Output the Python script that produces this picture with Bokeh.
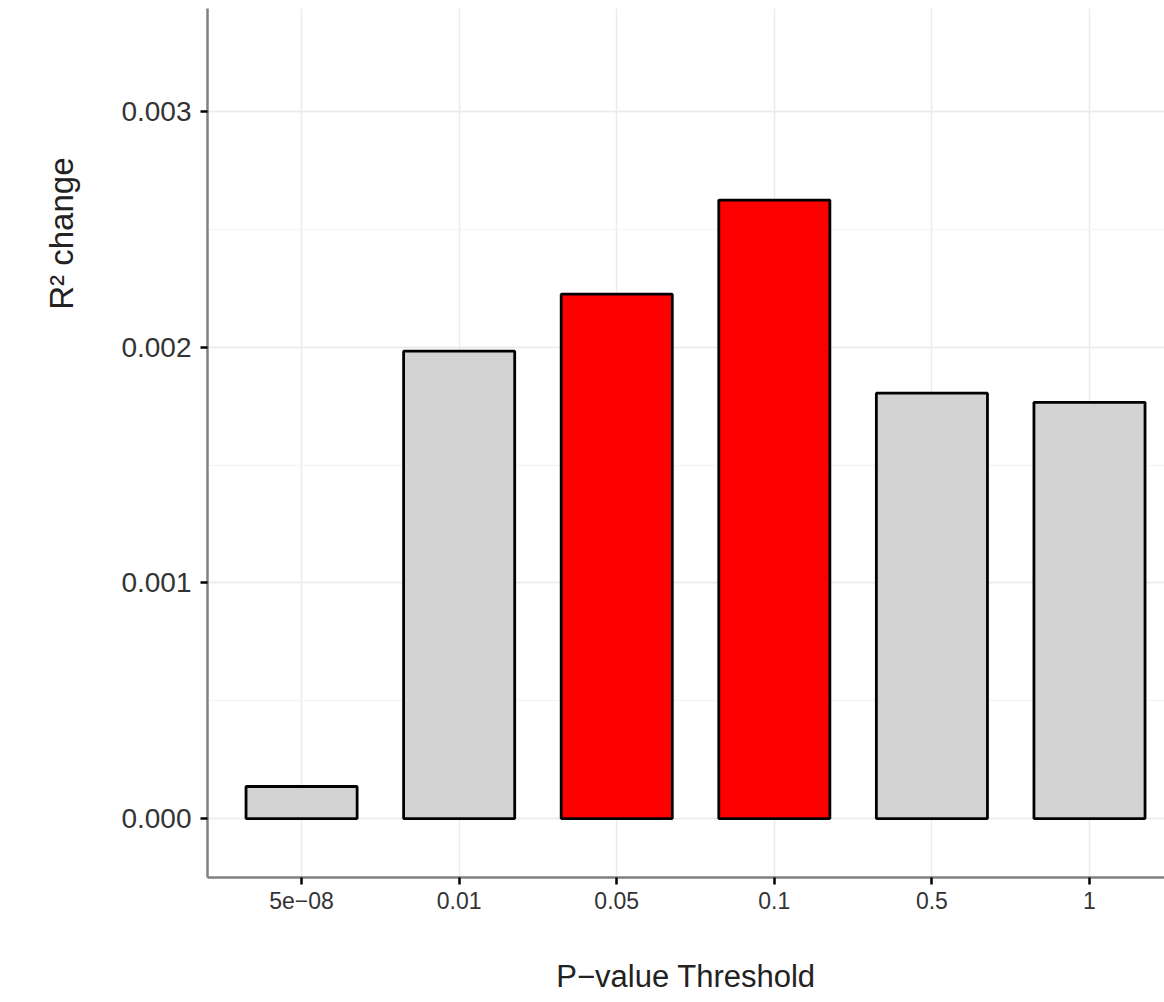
from bokeh.plotting import figure
from bokeh.models import (Range1d, FixedTicker, SingleIntervalTicker, ColumnDataSource,
                          PrintfTickFormatter, Title)
from bokeh.embed import file_html
from bokeh.resources import INLINE

categories = ["5e\u221208", "0.01", "0.05", "0.1", "0.5", "1"]
r2_change = [0.000136, 0.001983, 0.002225, 0.002624, 0.001805, 0.001766]
bar_colors = ["#D3D3D3", "#D3D3D3", "#FF0000", "#FF0000", "#D3D3D3", "#D3D3D3"]

xpos = list(range(1, len(categories) + 1))
src = ColumnDataSource(dict(x=xpos, top=r2_change, color=bar_colors))

x0, x1 = 0.403, 6.476
y0, y1 = -0.00025, 0.003437
p = figure(width=1164, height=1002, output_backend="svg", toolbar_location=None,
           x_range=Range1d(x0, x1), y_range=Range1d(y0, y1),
           min_border_left=207, min_border_right=0, min_border_top=8, min_border_bottom=125)
p.outline_line_color = None
p.background_fill_color = "white"
p.border_fill_color = "white"

p.vbar(x="x", top="top", bottom=0, width=0.705, fill_color="color",
       line_color="black", line_width=2.8, source=src)

p.xaxis.ticker = FixedTicker(ticks=xpos)
p.xaxis.major_label_overrides = {i: c for i, c in zip(xpos, categories)}
p.yaxis.ticker = SingleIntervalTicker(interval=0.001, num_minor_ticks=2)
p.yaxis.formatter = PrintfTickFormatter(format="%.3f")

for ax in (p.xaxis, p.yaxis):
    ax.axis_line_color = "#808080"
    ax.axis_line_width = 2.5
    ax.major_tick_line_color = "black"
    ax.major_tick_line_width = 2.5
    ax.major_tick_out = 7
    ax.major_tick_in = 0
    ax.minor_tick_line_color = None
    ax.major_label_text_font = "Liberation Sans"
    ax.major_label_text_color = "#333333"
    ax.axis_label_text_font = "Liberation Sans"
    ax.axis_label_text_font_style = "normal"
    ax.axis_label_text_color = "#222222"
    ax.axis_label_text_font_size = "31px"

p.yaxis.major_label_text_font_size = "28px"
p.yaxis.major_label_standoff = 9
p.xaxis.major_label_text_font_size = "23px"
p.xaxis.major_label_standoff = 7
p.xaxis.axis_label = "P\u2212value Threshold"
p.xaxis.axis_label_standoff = 47

ytitle = Title(text="R\u00b2 change", align="right", offset=149, standoff=78,
               text_font="Liberation Sans", text_font_size="33px",
               text_font_style="normal", text_color="#222222")
p.add_layout(ytitle, "left")

p.xgrid.grid_line_color = "#ebebeb"
p.xgrid.grid_line_width = 1.5
p.ygrid.grid_line_color = "#ebebeb"
p.ygrid.grid_line_width = 1.5
p.ygrid.minor_grid_line_color = "#f5f5f5"
p.ygrid.minor_grid_line_width = 1.5

open("out.html", "w").write(file_html(p, INLINE))
